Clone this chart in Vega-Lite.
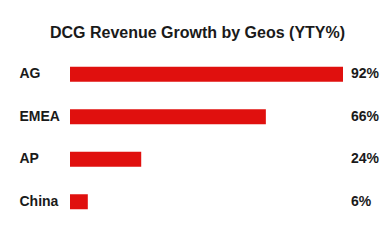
{
  "$schema": "https://vega.github.io/schema/vega-lite/v6.json",
  "width": 273,
  "height": 170,
  "autosize": "none",
  "padding": {"left": 70, "top": 53, "right": 39, "bottom": 20},
  "background": "white",
  "title": {
    "text": "DCG Revenue Growth by Geos (YTY%)",
    "font": "Liberation Sans",
    "fontSize": 16,
    "fontWeight": "bold",
    "color": "#1a1a1a",
    "anchor": "middle",
    "offset": 12,
    "dx": -9
  },
  "data": {
    "values": [
      {"geo": "AG", "growth": 92, "label": "92%"},
      {"geo": "EMEA", "growth": 66, "label": "66%"},
      {"geo": "AP", "growth": 24, "label": "24%"},
      {"geo": "China", "growth": 6, "label": "6%"}
    ]
  },
  "encoding": {
    "y": {
      "field": "geo",
      "type": "nominal",
      "sort": null,
      "scale": {"paddingInner": 0.647, "paddingOuter": 0.3235},
      "axis": {
        "title": null,
        "domain": false,
        "ticks": false,
        "labelAlign": "left",
        "labelPadding": 51,
        "labelFont": "Liberation Sans",
        "labelFontSize": 14,
        "labelFontWeight": "bold",
        "labelColor": "#1a1a1a"
      }
    }
  },
  "layer": [
    {
      "mark": {"type": "bar", "color": "#e0100e"},
      "encoding": {
        "x": {
          "field": "growth",
          "type": "quantitative",
          "scale": {"domain": [0, 92], "nice": false},
          "axis": null
        }
      }
    },
    {
      "mark": {
        "type": "text",
        "align": "left",
        "baseline": "middle",
        "dx": 8,
        "font": "Liberation Sans",
        "fontSize": 14,
        "fontWeight": "bold",
        "color": "#1a1a1a"
      },
      "encoding": {
        "x": {"datum": 92, "type": "quantitative"},
        "text": {"field": "label", "type": "nominal"}
      }
    }
  ],
  "config": {"view": {"stroke": null}, "axis": {"grid": false}}
}
